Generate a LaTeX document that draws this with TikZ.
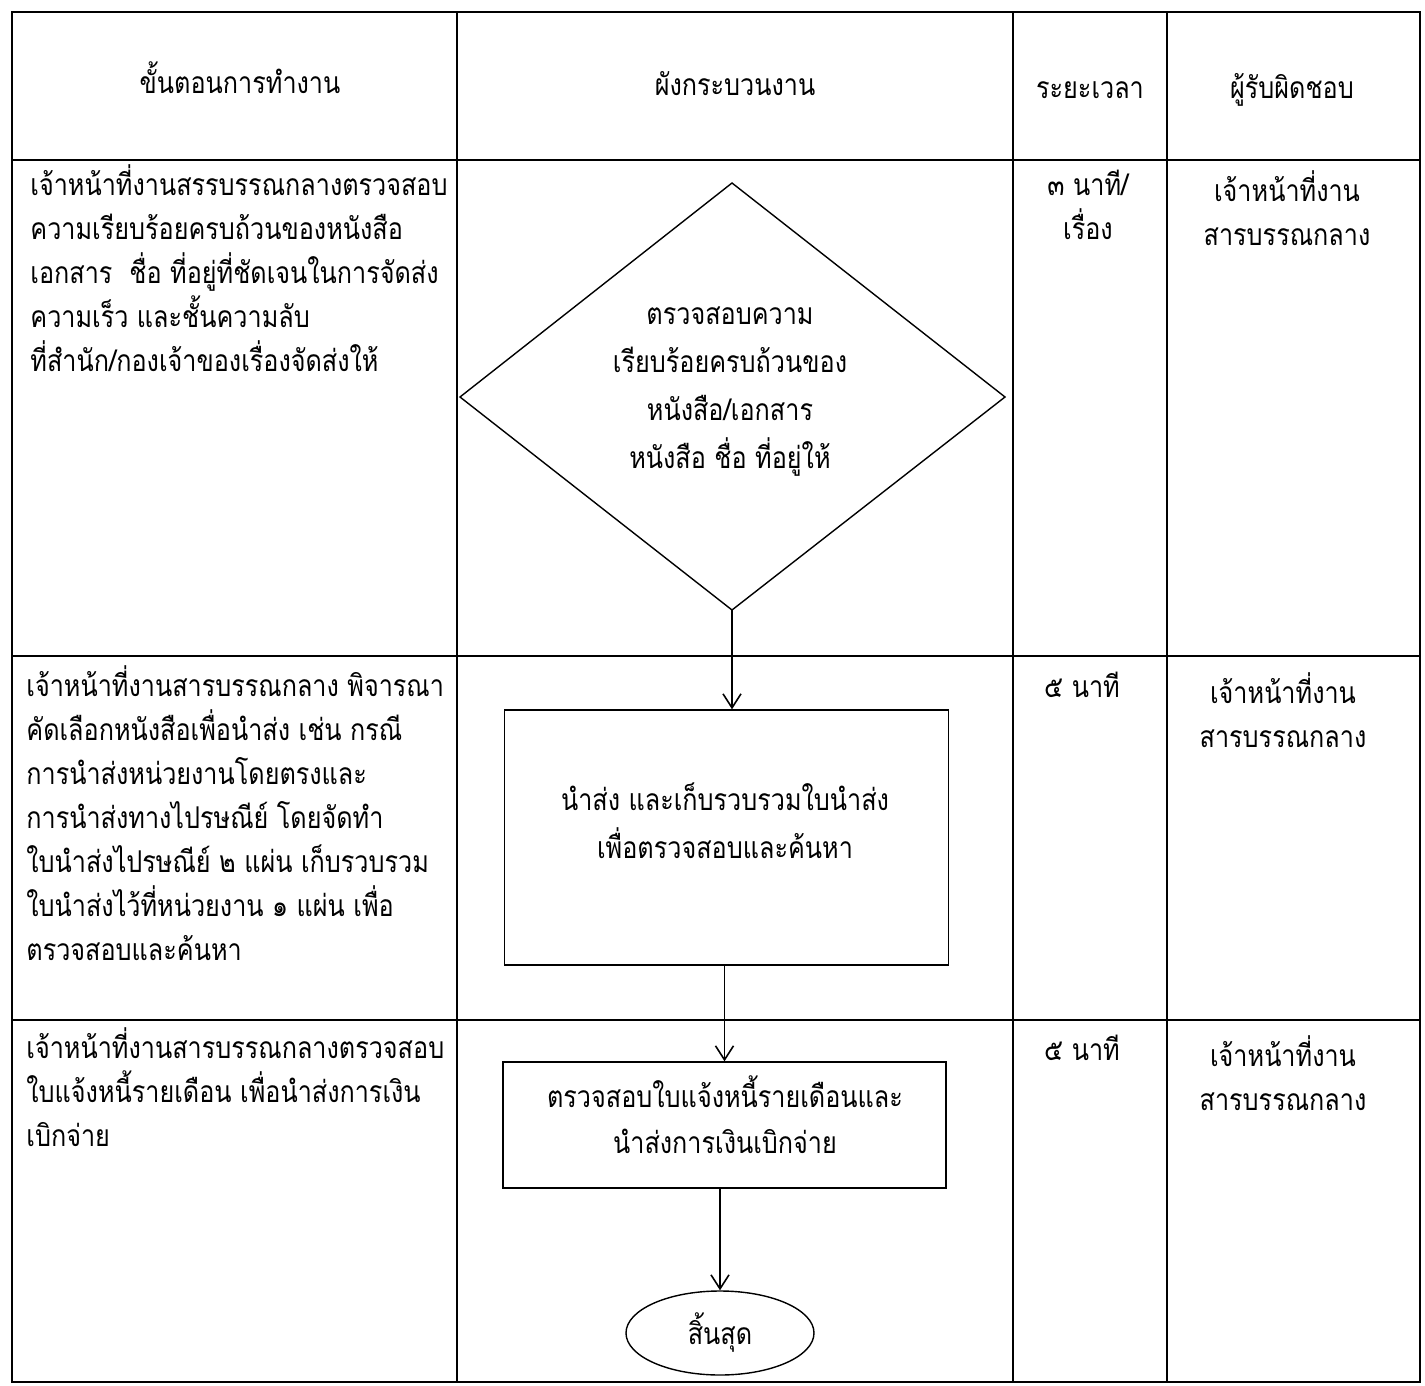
\documentclass[tikz,border=0pt]{standalone}
\usepackage{fontspec}
\newfontfamily\thai[Script=Thai,FakeStretch=0.84]{Loma}
\usetikzlibrary{arrows.meta,shapes.geometric}
\begin{document}
\begin{tikzpicture}[x=0.5pt,y=-0.5pt,
  grid/.style={line width=0.8pt},
  shape line/.style={line width=0.7pt},
  flow/.style={line width=0.8pt,-{Straight Barb[length=7pt,width=9pt,line width=0.8pt]}},
  txt/.style={font=\thai\fontsize{15}{22}\selectfont,inner sep=0pt},
  lefttxt/.style={txt,align=left,anchor=north west},
  ctxt/.style={txt,align=center,anchor=north}
]
\useasboundingbox (0,0) rectangle (1425,1386);
\fill[white] (0,0) rectangle (1425,1386);
% table grid
\draw[grid] (12,12) rectangle (1420,1382);
\draw[grid] (457,12) -- (457,1382);
\draw[grid] (1013,12) -- (1013,1382);
\draw[grid] (1167,12) -- (1167,1382);
\draw[grid] (12,160) -- (1420,160);
\draw[grid] (12,656) -- (1420,656);
\draw[grid] (12,1020) -- (1420,1020);
% header
\node[txt] (h1) at (240,78) {ขั้นตอนการทำงาน};
\node[txt] (h2) at (735,84) {ผังกระบวนงาน};
\node[txt] (h3) at (1090,90) {ระยะเวลา};
\node[txt] (h4) at (1292,90) {ผู้รับผิดชอบ};
% row 1
\node[lefttxt] (s1) at (30,164) {เจ้าหน้าที่งานสรรบรรณกลางตรวจสอบ\\ความเรียบร้อยครบถ้วนของหนังสือ\\เอกสาร\ \ ชื่อ ที่อยู่ที่ชัดเจนในการจัดส่ง\\ความเร็ว และชั้นความลับ\\ที่สำนัก/กองเจ้าของเรื่องจัดส่งให้};
\node[ctxt] (t1) at (1088,170) {๓ นาที/\\เรื่อง};
\node[ctxt] (r1) at (1287,170) {เจ้าหน้าที่งาน\\สารบรรณกลาง};
\coordinate (dT) at (732,183);
\coordinate (dL) at (460,397);
\coordinate (dR) at (1005,397);
\coordinate (dB) at (732,610);
\draw[shape line] (dT) -- (dR) -- (dB) -- (dL) -- cycle;
\node[ctxt] (d) at (730,306) {ตรวจสอบความ\\[2pt]เรียบร้อยครบถ้วนของ\\[2pt]หนังสือ/เอกสาร\\[2pt]หนังสือ ชื่อ ที่อยู่ให้};
% row 2
\node[lefttxt] (s2) at (26,665) {เจ้าหน้าที่งานสารบรรณกลาง พิจารณา\\คัดเลือกหนังสือเพื่อนำส่ง เช่น กรณี\\การนำส่งหน่วยงานโดยตรงและ\\การนำส่งทางไปรษณีย์ โดยจัดทำ\\ใบนำส่งไปรษณีย์ ๒ แผ่น เก็บรวบรวม\\ใบนำส่งไว้ที่หน่วยงาน ๑ แผ่น เพื่อ\\ตรวจสอบและค้นหา};
\node[ctxt] (t2) at (1082,672) {๕ นาที};
\node[ctxt] (r2) at (1283,672) {เจ้าหน้าที่งาน\\สารบรรณกลาง};
\node[draw,shape line,minimum width=222pt,minimum height=127.5pt,inner sep=0pt] (b1) at (726.5,837.5) {};
\node[ctxt] (b1t) at (725,782) {นำส่ง และเก็บรวบรวมใบนำส่ง\\[2pt]เพื่อตรวจสอบและค้นหา};
% row 3
\node[lefttxt] (s3) at (26,1027) {เจ้าหน้าที่งานสารบรรณกลางตรวจสอบ\\ใบแจ้งหนี้รายเดือน เพื่อนำส่งการเงิน\\เบิกจ่าย};
\node[ctxt] (t3) at (1082,1035) {๕ นาที};
\node[ctxt] (r3) at (1283,1035) {เจ้าหน้าที่งาน\\สารบรรณกลาง};
\node[draw,shape line,minimum width=221.5pt,minimum height=63pt,inner sep=0pt] (b2) at (724.5,1125) {};
\node[ctxt] (b2t) at (725,1075) {ตรวจสอบใบแจ้งหนี้รายเดือนและ\\[1pt]นำส่งการเงินเบิกจ่าย};
\node[ellipse,draw,shape line,minimum width=94pt,minimum height=42pt,inner sep=0pt,txt] (e) at (720,1333) {สิ้นสุด};
% connectors
\draw[flow] (dB) -- (b1.north -| dB);
\draw[flow] (b2.north |- b1.south) -- (b2.north);
\draw[flow] (b2.south -| e.north) -- (e.north);
\end{tikzpicture}
\end{document}
